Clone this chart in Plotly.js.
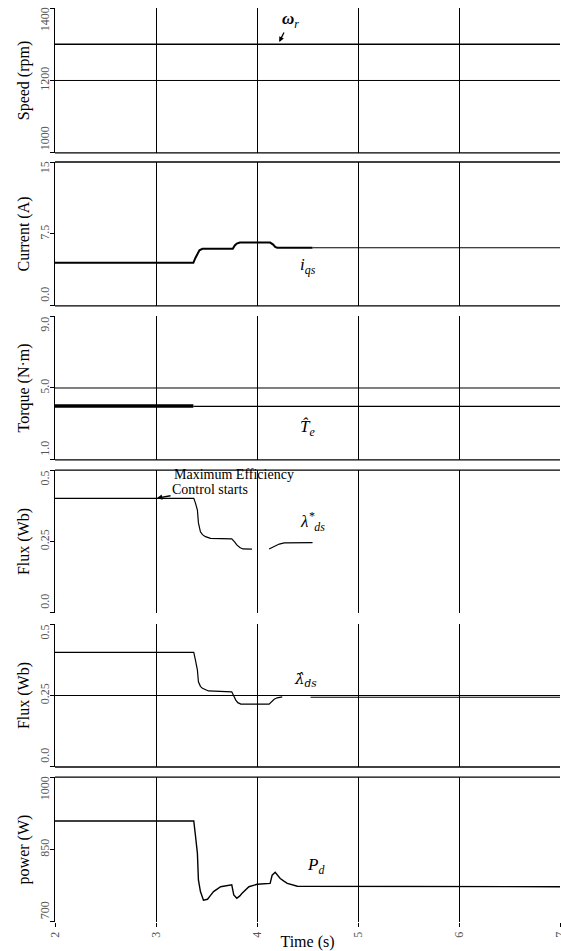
<!DOCTYPE html>
<html>
<head>
<meta charset="utf-8">
<script src="https://cdn.plot.ly/plotly-3.0.1.min.js"></script>
<style>html,body{margin:0;padding:0;background:#fff;}#chart{width:561px;height:951px;}</style>
</head>
<body>
<div id="chart"></div>
<script>
// ---- data ----
const xTickVals = [2, 3, 4, 5, 6, 7];
const xTickText = ['2', '3', '4', '5', '6', '7'];

// Speed (rpm)
const speedT = [2, 7];
const speedV = [1300, 1300];
// i_qs current (A)
const iqsT = [2, 3.37, 3.39, 3.41, 3.43, 3.46, 3.76, 3.78, 3.80, 3.83, 4.13, 4.16, 4.18, 4.20, 4.55];
const iqsV = [4.5, 4.5, 5.0, 5.5, 5.8, 5.95, 5.95, 6.3, 6.5, 6.6, 6.6, 6.4, 6.15, 6.07, 6.07];
const iqsTailT = [4.55, 7];
const iqsTailV = [6.07, 6.07];
// Torque estimate (N·m)
const teT = [2, 3.37];
const teV = [4.0, 4.0];
const teTailT = [3.37, 7];
const teTailV = [3.98, 3.98];
// Flux reference λ*ds (Wb)
const fluxRefT = [2, 3.374, 3.39, 3.41, 3.42, 3.44, 3.46, 3.49, 3.54, 3.75, 3.78, 3.80, 3.83, 3.86, 3.95, null, 4.12, 4.15, 4.18, 4.22, 4.27, 4.55];
const fluxRefV = [0.401, 0.401, 0.385, 0.360, 0.315, 0.284, 0.274, 0.267, 0.261, 0.259, 0.248, 0.238, 0.229, 0.224, 0.223, null, 0.224, 0.229, 0.236, 0.241, 0.245, 0.246];
// Flux estimate λ̂ds (Wb)
const fluxEstT = [2, 3.374, 3.39, 3.41, 3.42, 3.44, 3.46, 3.49, 3.52, 3.75, 3.77, 3.79, 3.81, 3.84, 4.12, 4.14, 4.17, 4.20, 4.25, null, 4.53, 7];
const fluxEstV = [0.401, 0.401, 0.375, 0.339, 0.298, 0.282, 0.275, 0.269, 0.266, 0.263, 0.248, 0.234, 0.225, 0.220, 0.220, 0.228, 0.237, 0.242, 0.245, null, 0.244, 0.244];
// Power Pd (W)
const powerT = [2, 3.374, 3.39, 3.41, 3.42, 3.44, 3.47, 3.51, 3.54, 3.57, 3.64, 3.74, 3.75, 3.77, 3.80, 3.83, 3.85, 3.92, 4.00, 4.13, 4.15, 4.18, 4.20, 4.23, 4.27, 4.30, 4.40, 7];
const powerV = [909, 909, 880, 842, 787, 763, 745, 747, 755, 763, 773, 778, 777, 756, 749, 754, 759, 773, 778, 780, 797, 803, 798, 790, 784, 780, 774, 773];

// y axis tick labels
const speedTicks = [1000, 1200, 1400], speedText = ['1000', '1200', '1400'];
const iqsTicks = [0, 7.5, 15], iqsText = ['0.0', '7.5', '15'];
const teTicks = [1, 5, 9], teText = ['1.0', '5.0', '9.0'];
const fluxTicks = [0, 0.25, 0.5], fluxText = ['0.0', '0.25', '0.5'];
const powerTicks = [700, 850, 1000], powerText = ['700', '850', '1000'];

// ---- styling ----
const serif = 'Liberation Serif, Times New Roman, serif';
const tickSize = 12;
const tickFont = {family: serif, size: tickSize, color: '#555'};
const titleFont = {family: serif, size: 16, color: '#000'};
const panelPx = 145;

function line(x, y, yaxis, w) {
  return {x: x, y: y, xaxis: 'x', yaxis: yaxis, type: 'scatter', mode: 'lines',
          line: {color: '#000', width: w, shape: 'linear'},
          connectgaps: false, hoverinfo: 'skip', showlegend: false};
}

const traces = [
  line(speedT, speedV, 'y', 1.3),
  line(iqsT, iqsV, 'y2', 2),
  line(iqsTailT, iqsTailV, 'y2', 1.1),
  line(teT, teV, 'y3', 3.4),
  line(teTailT, teTailV, 'y3', 1.3),
  line(fluxRefT, fluxRefV, 'y4', 1.2),
  line(fluxEstT, fluxEstV, 'y5', 1.2),
  line(powerT, powerV, 'y6', 1.4)
];

// labels at the ends of each axis sit inside the panel (as in the reference)
function labelPositions(ticks, text, range) {
  const span = range[1] - range[0];
  return ticks.map(function (v, i) {
    const half = (text[i].length * tickSize * 0.5) / 2 + 1;
    const off = half / panelPx * span;
    if (i === 0) return v + off;
    if (i === ticks.length - 1) return v - off;
    return v;
  });
}

function yax(domain, range, ticks, text, title) {
  return {
    domain: domain, range: range, anchor: 'x',
    tickmode: 'array', tickvals: labelPositions(ticks, text, range), ticktext: text, tickangle: -90,
    tickfont: tickFont, ticks: '',
    minor: {tickmode: 'array', tickvals: ticks, ticks: 'outside', ticklen: 4, tickcolor: '#000', showgrid: false},
    showline: true, linecolor: '#000', linewidth: 1.2,
    showgrid: false, zeroline: false, fixedrange: true,
    title: {text: title, font: titleFont, standoff: 4}
  };
}

// panel domains (paper fractions)
const dSpeed = [0.8414, 1], dIqs = [0.6740, 0.8315], dTe = [0.5055, 0.6630],
      dFluxRef = [0.3381, 0.4945], dFluxEst = [0.1696, 0.3260], dPow = [0, 0.1586];

function hline(yref, y, w) {
  return {type: 'line', xref: 'paper', x0: 0, x1: 1, yref: yref, y0: y, y1: y,
          line: {color: '#000', width: w || 1.3}};
}

const annFont = {family: serif, size: 17, color: '#000'};
const hatFont = {family: 'DejaVu Serif, serif', size: 15, color: '#000'};
const noteFont = {family: serif, size: 14, color: '#000'};
const layout = {
  width: 561, height: 951,
  margin: {l: 54.5, r: 1, t: 8, b: 29},
  paper_bgcolor: '#fff', plot_bgcolor: '#fff',
  showlegend: false,
  xaxis: {
    range: [2, 7], anchor: 'y6', tickmode: 'array', tickvals: xTickVals, ticktext: xTickText,
    tickangle: -90, tickfont: tickFont, ticks: 'outside', ticklen: 4, tickcolor: '#000',
    ticklabeloverflow: 'allow',
    showgrid: true, gridcolor: '#000', gridwidth: 1, showline: false, zeroline: false,
    fixedrange: true,
    title: {text: 'Time (s)', font: {family: serif, size: 16, color: '#000'}, standoff: 0}
  },
  yaxis: yax(dSpeed, [1000, 1400], speedTicks, speedText, 'Speed (rpm)'),
  yaxis2: yax(dIqs, [0, 15], iqsTicks, iqsText, 'Current (A)'),
  yaxis3: yax(dTe, [1, 9], teTicks, teText, 'Torque (N·m)'),
  yaxis4: yax(dFluxRef, [0, 0.5], fluxTicks, fluxText, 'Flux (Wb)'),
  yaxis5: yax(dFluxEst, [0, 0.5], fluxTicks, fluxText, 'Flux (Wb)'),
  yaxis6: yax(dPow, [700, 1000], powerTicks, powerText, 'power (W)'),
  shapes: [
    // panel frame lines
    hline('y domain', 0),
    hline('y2 domain', 0), hline('y2 domain', 1),
    hline('y3 domain', 0),
    hline('y4 domain', 1),
    hline('y5 domain', 0),
    hline('y6 domain', 1),
    // mid-value grid lines present in the reference
    hline('y', speedTicks[1], 1),
    hline('y3', teTicks[1], 1),
    hline('y5', fluxTicks[1], 1)
  ],
  annotations: [
    {xref: 'x', yref: 'y', x: 4.22, y: 1306, ax: 11, ay: -22, text: '<i><b>ω</b><sub>r</sub></i>',
     font: annFont, showarrow: true, arrowhead: 2, arrowsize: 0.8, arrowwidth: 1.3, arrowcolor: '#000'},
    {xref: 'x', yref: 'y2', x: 4.5, y: 4.2, text: '<i>i<sub>qs</sub></i>', font: annFont, showarrow: false},
    {xref: 'x', yref: 'y3', x: 4.5, y: 2.8, text: '<i>T\u0302<sub>e</sub></i>', font: annFont, showarrow: false},
    {xref: 'x', yref: 'y4', x: 4.55, y: 0.32, text: '<i>λ<sup>*</sup><sub>ds</sub></i>', font: annFont, showarrow: false},
    {xref: 'x', yref: 'y5', x: 4.48, y: 0.305, text: '<i>λ\u0302<sub>ds</sub></i>', font: hatFont, showarrow: false},
    {xref: 'x', yref: 'y6', x: 4.58, y: 815, text: '<i>P<sub>d</sub></i>', font: annFont, showarrow: false},
    {xref: 'paper', yref: 'paper', x: 0.232, y: (922 - 474) / 914, xanchor: 'left', yanchor: 'middle',
     text: 'Maximum Efficiency', font: noteFont, showarrow: false},
    {xref: 'x', yref: 'y4', x: 3.01, y: 0.402, ax: 53, ay: -9, text: 'Control starts',
     font: noteFont, showarrow: true, arrowhead: 2,
     arrowsize: 0.8, arrowwidth: 1.3, arrowcolor: '#000'}
  ]
};

Plotly.newPlot('chart', traces, layout, {staticPlot: true, displayModeBar: false});
</script>
</body>
</html>
